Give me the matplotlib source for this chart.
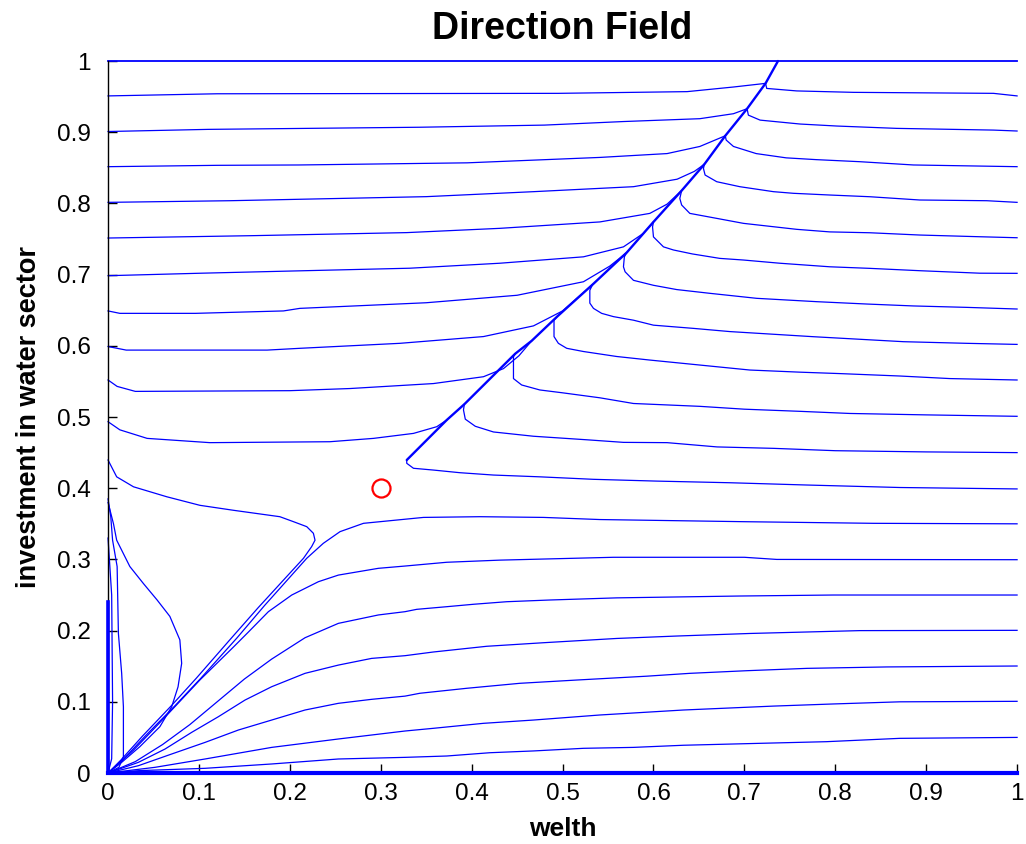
import matplotlib
matplotlib.use("Agg")
import matplotlib.pyplot as plt

# ---------------- text ----------------
title_text = "Direction Field"
xlabel_text = "welth"
ylabel_text = "investment in water sector"
tick_values = [0, 0.1, 0.2, 0.3, 0.4, 0.5, 0.6, 0.7, 0.8, 0.9, 1.0]
tick_labels = ["0", "0.1", "0.2", "0.3", "0.4", "0.5", "0.6", "0.7", "0.8", "0.9", "1"]

# equilibrium marker
saddle_x = [0.3]
saddle_y = [0.4]

# ---------------- trajectories ----------------
# ridge that the upper trajectories flow along (passes through the hook junctions)
upper_ridge = [(0.3286, 0.4396), (0.3726, 0.4958), (0.392, 0.518), (0.448, 0.589),
               (0.466, 0.607), (0.494, 0.641), (0.533, 0.686), (0.5706, 0.731), (0.600, 0.774),
               (0.631, 0.818), (0.656, 0.855), (0.679, 0.895), (0.703, 0.933),
               (0.7233, 0.9686), (0.737, 1.0)]

# borders
top_line = [(0.0, 1.0), (0.737, 1.0), (1.0, 1.0)]
bottom_line = [(0.0, 0.0), (1.0, 0.0)]
left_edge = [(0.0, 0.24), (0.0, 0.0)]
left_edge_thin = [(0.0, 0.33), (0.004, 0.25), (0.005, 0.1), (0.004, 0.02), (0.0, 0.0)]

# curves starting on the left edge (x = 0)
left_095 = [(0, 0.951), (0.12, 0.954), (0.495, 0.9546), (0.637, 0.957), (0.688, 0.9635), (0.7233, 0.9686)]
left_090 = [(0, 0.901), (0.11, 0.904), (0.343, 0.907), (0.48, 0.910), (0.567, 0.915), (0.651, 0.919),
            (0.688, 0.926), (0.703, 0.933)]
left_085 = [(0, 0.8516), (0.12, 0.8535), (0.21, 0.854), (0.395, 0.857), (0.541, 0.8646), (0.615, 0.870),
            (0.651, 0.880), (0.679, 0.895)]
left_080 = [(0, 0.8015), (0.134, 0.8038), (0.35, 0.8095), (0.468, 0.8165), (0.578, 0.8235), (0.626, 0.834),
            (0.645, 0.845), (0.656, 0.855)]
left_075 = [(0, 0.7514), (0.158, 0.7547), (0.3286, 0.759), (0.431, 0.765), (0.541, 0.774), (0.596, 0.786),
            (0.615, 0.799), (0.631, 0.818)]
left_070 = [(0, 0.6985), (0.103, 0.702), (0.2, 0.705), (0.332, 0.709), (0.431, 0.716), (0.523, 0.725),
            (0.567, 0.739), (0.589, 0.758), (0.600, 0.774)]
left_065 = [(0, 0.649), (0.013, 0.6456), (0.096, 0.6456), (0.193, 0.649), (0.211, 0.6526), (0.35, 0.6605),
            (0.45, 0.671), (0.523, 0.69), (0.552, 0.712), (0.5706, 0.731)]
left_060 = [(0, 0.599), (0.02, 0.594), (0.175, 0.594), (0.211, 0.5965), (0.321, 0.6035), (0.413, 0.613),
            (0.468, 0.628), (0.50, 0.649), (0.533, 0.686)]
left_055 = [(0, 0.552), (0.01, 0.543), (0.03, 0.536), (0.2, 0.537), (0.266, 0.540), (0.358, 0.547),
            (0.413, 0.5566), (0.435, 0.568), (0.452, 0.586), (0.466, 0.607)]
left_050 = [(0, 0.4934), (0.013, 0.482), (0.043, 0.470), (0.112, 0.464), (0.244, 0.4653), (0.292, 0.470),
            (0.336, 0.477), (0.3616, 0.4864), (0.3726, 0.4958)]
left_044 = [(0, 0.4396), (0.0095, 0.416), (0.028, 0.402), (0.0646, 0.388), (0.101, 0.376), (0.138, 0.369),
            (0.189, 0.36), (0.204, 0.353), (0.2186, 0.346), (0.2259, 0.3367), (0.2277, 0.327),
            (0.224, 0.318), (0.215, 0.3016), (0.165, 0.232), (0.136, 0.19), (0.097, 0.133),
            (0.07, 0.095), (0.038, 0.052), (0.014, 0.018), (0, 0)]
left_038a = [(0, 0.38), (0.006, 0.35), (0.0095, 0.327), (0.024, 0.29), (0.039, 0.266), (0.054, 0.243),
             (0.068, 0.22), (0.079, 0.187), (0.081, 0.154), (0.077, 0.121), (0.070, 0.093),
             (0.057, 0.065), (0.035, 0.037), (0.015, 0.015), (0, 0)]
left_038b = [(0, 0.385), (0.003, 0.36), (0.005, 0.327), (0.010, 0.29), (0.0114, 0.196), (0.015, 0.14),
             (0.0169, 0.093), (0.0169, 0.023), (0.012, 0.008), (0, 0)]

# curves starting on the right edge (x = 1)
right_095 = [(1, 0.951), (0.974, 0.9546), (0.82, 0.956), (0.7576, 0.958), (0.7246, 0.9615), (0.7233, 0.9686)]
right_090 = [(1, 0.9017), (0.974, 0.903), (0.8676, 0.9054), (0.8016, 0.9087), (0.7613, 0.9115),
             (0.7173, 0.917), (0.7044, 0.924), (0.703, 0.933)]
right_085 = [(1, 0.8516), (0.886, 0.854), (0.827, 0.8586), (0.779, 0.8615), (0.746, 0.864), (0.713, 0.870),
             (0.688, 0.880), (0.680, 0.889), (0.679, 0.895)]
right_080 = [(1, 0.8015), (0.9667, 0.8038), (0.893, 0.8048), (0.838, 0.8094), (0.794, 0.8118),
             (0.754, 0.8142), (0.732, 0.8165), (0.695, 0.8235), (0.6696, 0.8305), (0.6568, 0.8399),
             (0.655, 0.849), (0.656, 0.855)]
right_075 = [(1, 0.7518), (0.959, 0.7532), (0.893, 0.7556), (0.838, 0.7588), (0.794, 0.760), (0.7576, 0.7636),
             (0.699, 0.772), (0.6696, 0.779), (0.640, 0.786), (0.631, 0.7978), (0.629, 0.807), (0.631, 0.818)]
right_070 = [(1, 0.7018), (0.959, 0.702), (0.893, 0.7055), (0.838, 0.7088), (0.794, 0.711), (0.739, 0.716),
             (0.699, 0.7205), (0.673, 0.7228), (0.643, 0.729), (0.622, 0.7346), (0.611, 0.739),
             (0.600, 0.753), (0.599, 0.767), (0.600, 0.774)]
right_065 = [(1, 0.6517), (0.9447, 0.654), (0.886, 0.656), (0.8346, 0.6587), (0.7796, 0.662),
             (0.7136, 0.6667), (0.6623, 0.6737), (0.6256, 0.679), (0.600, 0.685), (0.578, 0.692),
             (0.5688, 0.704), (0.567, 0.711), (0.568, 0.725), (0.5706, 0.731)]
right_060 = [(1, 0.602), (0.9447, 0.6035), (0.875, 0.6058), (0.776, 0.6128), (0.684, 0.62), (0.644, 0.6245),
             (0.600, 0.629), (0.578, 0.636), (0.556, 0.641), (0.543, 0.6456), (0.534, 0.6526),
             (0.530, 0.66), (0.530, 0.678), (0.533, 0.686)]
right_055 = [(1, 0.552), (0.926, 0.554), (0.871, 0.5576), (0.805, 0.561), (0.761, 0.563), (0.706, 0.566),
             (0.651, 0.573), (0.596, 0.58), (0.5596, 0.585), (0.523, 0.592), (0.5046, 0.5965),
             (0.4954, 0.6035), (0.4906, 0.613), (0.4906, 0.636), (0.494, 0.641)]
right_050 = [(1, 0.501), (0.9, 0.503), (0.816, 0.505), (0.761, 0.508), (0.70, 0.511), (0.651, 0.515),
             (0.578, 0.519), (0.541, 0.527), (0.5, 0.534), (0.475, 0.538), (0.455, 0.545), (0.446, 0.554),
             (0.446, 0.5847), (0.448, 0.589)]
right_045 = [(1, 0.45), (0.9, 0.451), (0.80, 0.4527), (0.732, 0.456), (0.67, 0.458), (0.615, 0.464),
             (0.567, 0.4644), (0.527, 0.468), (0.468, 0.473), (0.424, 0.479), (0.404, 0.487),
             (0.393, 0.497), (0.391, 0.510), (0.392, 0.518)]
right_040 = [(1, 0.399), (0.871, 0.401), (0.7686, 0.4045), (0.684, 0.4077), (0.6036, 0.410), (0.534, 0.4125),
             (0.475, 0.416), (0.424, 0.4185), (0.387, 0.4218), (0.358, 0.4255), (0.336, 0.428),
             (0.3286, 0.435), (0.3286, 0.4396)]
right_035 = [(1, 0.35), (0.842, 0.3507), (0.699, 0.353), (0.541, 0.356), (0.479, 0.359), (0.409, 0.36),
             (0.347, 0.359), (0.281, 0.3507), (0.2552, 0.339), (0.2368, 0.3226), (0.2186, 0.3016),
             (0.172, 0.235), (0.142, 0.19), (0.102, 0.133), (0.074, 0.095), (0.041, 0.052),
             (0.016, 0.018), (0, 0)]
right_030 = [(1, 0.2996), (0.7356, 0.300), (0.70, 0.303), (0.556, 0.303), (0.431, 0.299), (0.3726, 0.296),
             (0.3267, 0.2907), (0.2974, 0.2875), (0.2534, 0.278), (0.2314, 0.2687), (0.2021, 0.25),
             (0.1764, 0.2266), (0.1544, 0.198), (0.138, 0.177), (0.101, 0.1306), (0.0646, 0.081),
             (0.028, 0.032), (0, 0)]
right_025 = [(1, 0.25), (0.798, 0.25), (0.695, 0.2486), (0.5596, 0.246), (0.486, 0.243), (0.4386, 0.2406),
             (0.402, 0.237), (0.3726, 0.2336), (0.3396, 0.2299), (0.3267, 0.2266), (0.2974, 0.222),
             (0.2534, 0.2102), (0.2167, 0.19), (0.18, 0.16), (0.15, 0.132), (0.12, 0.10),
             (0.09, 0.068), (0.06, 0.04), (0.03, 0.016), (0, 0)]
right_020 = [(1, 0.2004), (0.827, 0.200), (0.706, 0.196), (0.6256, 0.1924), (0.5596, 0.189), (0.479, 0.183),
             (0.4166, 0.178), (0.358, 0.170), (0.3267, 0.1648), (0.29, 0.161), (0.2534, 0.1516),
             (0.2167, 0.14), (0.18, 0.1212), (0.1507, 0.1025), (0.1214, 0.0791), (0.092, 0.0571),
             (0.0627, 0.0337), (0.0334, 0.015), (0, 0)]
right_015 = [(1, 0.1503), (0.857, 0.149), (0.769, 0.147), (0.7026, 0.1437), (0.64, 0.14), (0.5926, 0.136),
             (0.5156, 0.1306), (0.453, 0.126), (0.3946, 0.119), (0.343, 0.112), (0.3267, 0.108),
             (0.29, 0.1035), (0.2534, 0.0979), (0.2167, 0.0885), (0.18, 0.0744), (0.1434, 0.0604),
             (0.1067, 0.043), (0.07, 0.0267), (0.0334, 0.0103), (0, 0)]
right_010 = [(1, 0.1007), (0.871, 0.100), (0.798, 0.097), (0.732, 0.094), (0.633, 0.0885), (0.541, 0.0815),
             (0.468, 0.0744), (0.413, 0.0698), (0.358, 0.0628), (0.3267, 0.059), (0.2534, 0.0478),
             (0.18, 0.036), (0.1067, 0.0197), (0.0517, 0.008), (0, 0)]
right_005 = [(1, 0.05), (0.871, 0.0487), (0.79, 0.044), (0.717, 0.0417), (0.633, 0.039), (0.578, 0.036),
             (0.523, 0.0347), (0.468, 0.031), (0.42, 0.0285), (0.3726, 0.0239), (0.3267, 0.022),
             (0.2534, 0.0197), (0.18, 0.0127), (0.1067, 0.0066), (0.0334, 0.0033), (0, 0)]

# ---------------- figure ----------------
plt.rcParams["font.family"] = ["Liberation Sans", "DejaVu Sans"]

fig = plt.figure(figsize=(10.26, 8.44), dpi=100)
ax = fig.add_axes([0.1053, 0.0841, 0.8860, 0.8436])

line_color = (0.0, 0.0, 1.0)

thin_curves = [left_095, left_090, left_085, left_080, left_075, left_070, left_065, left_060,
               left_055, left_050, left_044, left_038a, left_038b, left_edge_thin,
               right_095, right_090, right_085, right_080, right_075, right_070, right_065,
               right_060, right_055, right_050, right_045, right_040, right_035, right_030,
               right_025, right_020, right_015, right_010, right_005]

for curve in thin_curves:
    xs = [p[0] for p in curve]
    ys = [p[1] for p in curve]
    ax.plot(xs, ys, color=line_color, lw=0.9, clip_on=False, solid_joinstyle="round")

ax.plot([p[0] for p in upper_ridge], [p[1] for p in upper_ridge], color=line_color, lw=1.7,
        clip_on=False, solid_capstyle="round", solid_joinstyle="round")
ax.plot([p[0] for p in top_line], [p[1] for p in top_line], color=line_color, lw=1.3, clip_on=False)
ax.plot([p[0] for p in bottom_line], [p[1] for p in bottom_line], color=line_color, lw=3.0,
        clip_on=False, zorder=5)
ax.plot([p[0] for p in left_edge], [p[1] for p in left_edge], color=line_color, lw=2.6,
        clip_on=False, zorder=5)

ax.plot(saddle_x, saddle_y, "o", mfc="none", mec="red", ms=13, mew=1.6, zorder=6)

ax.set_xlim(0, 1)
ax.set_ylim(0, 1)
ax.set_xticks(tick_values)
ax.set_xticklabels(tick_labels)
ax.set_yticks(tick_values)
ax.set_yticklabels(tick_labels)

for side in ("top", "right"):
    ax.spines[side].set_visible(False)
for side in ("left", "bottom"):
    ax.spines[side].set_color("black")
    ax.spines[side].set_linewidth(1.0)

ax.tick_params(axis="both", direction="in", length=6.5, width=1.0, colors="black", labelsize=17.5)
ax.tick_params(axis="x", pad=7.5)
ax.tick_params(axis="y", pad=12.5)

ax.set_title(title_text, fontsize=27, fontweight="bold", pad=16)
ax.set_xlabel(xlabel_text, fontsize=19, fontweight="bold", labelpad=8)
ax.set_ylabel(ylabel_text, fontsize=19.5, fontweight="bold", labelpad=11)

fig.savefig("out.png", dpi=100)
